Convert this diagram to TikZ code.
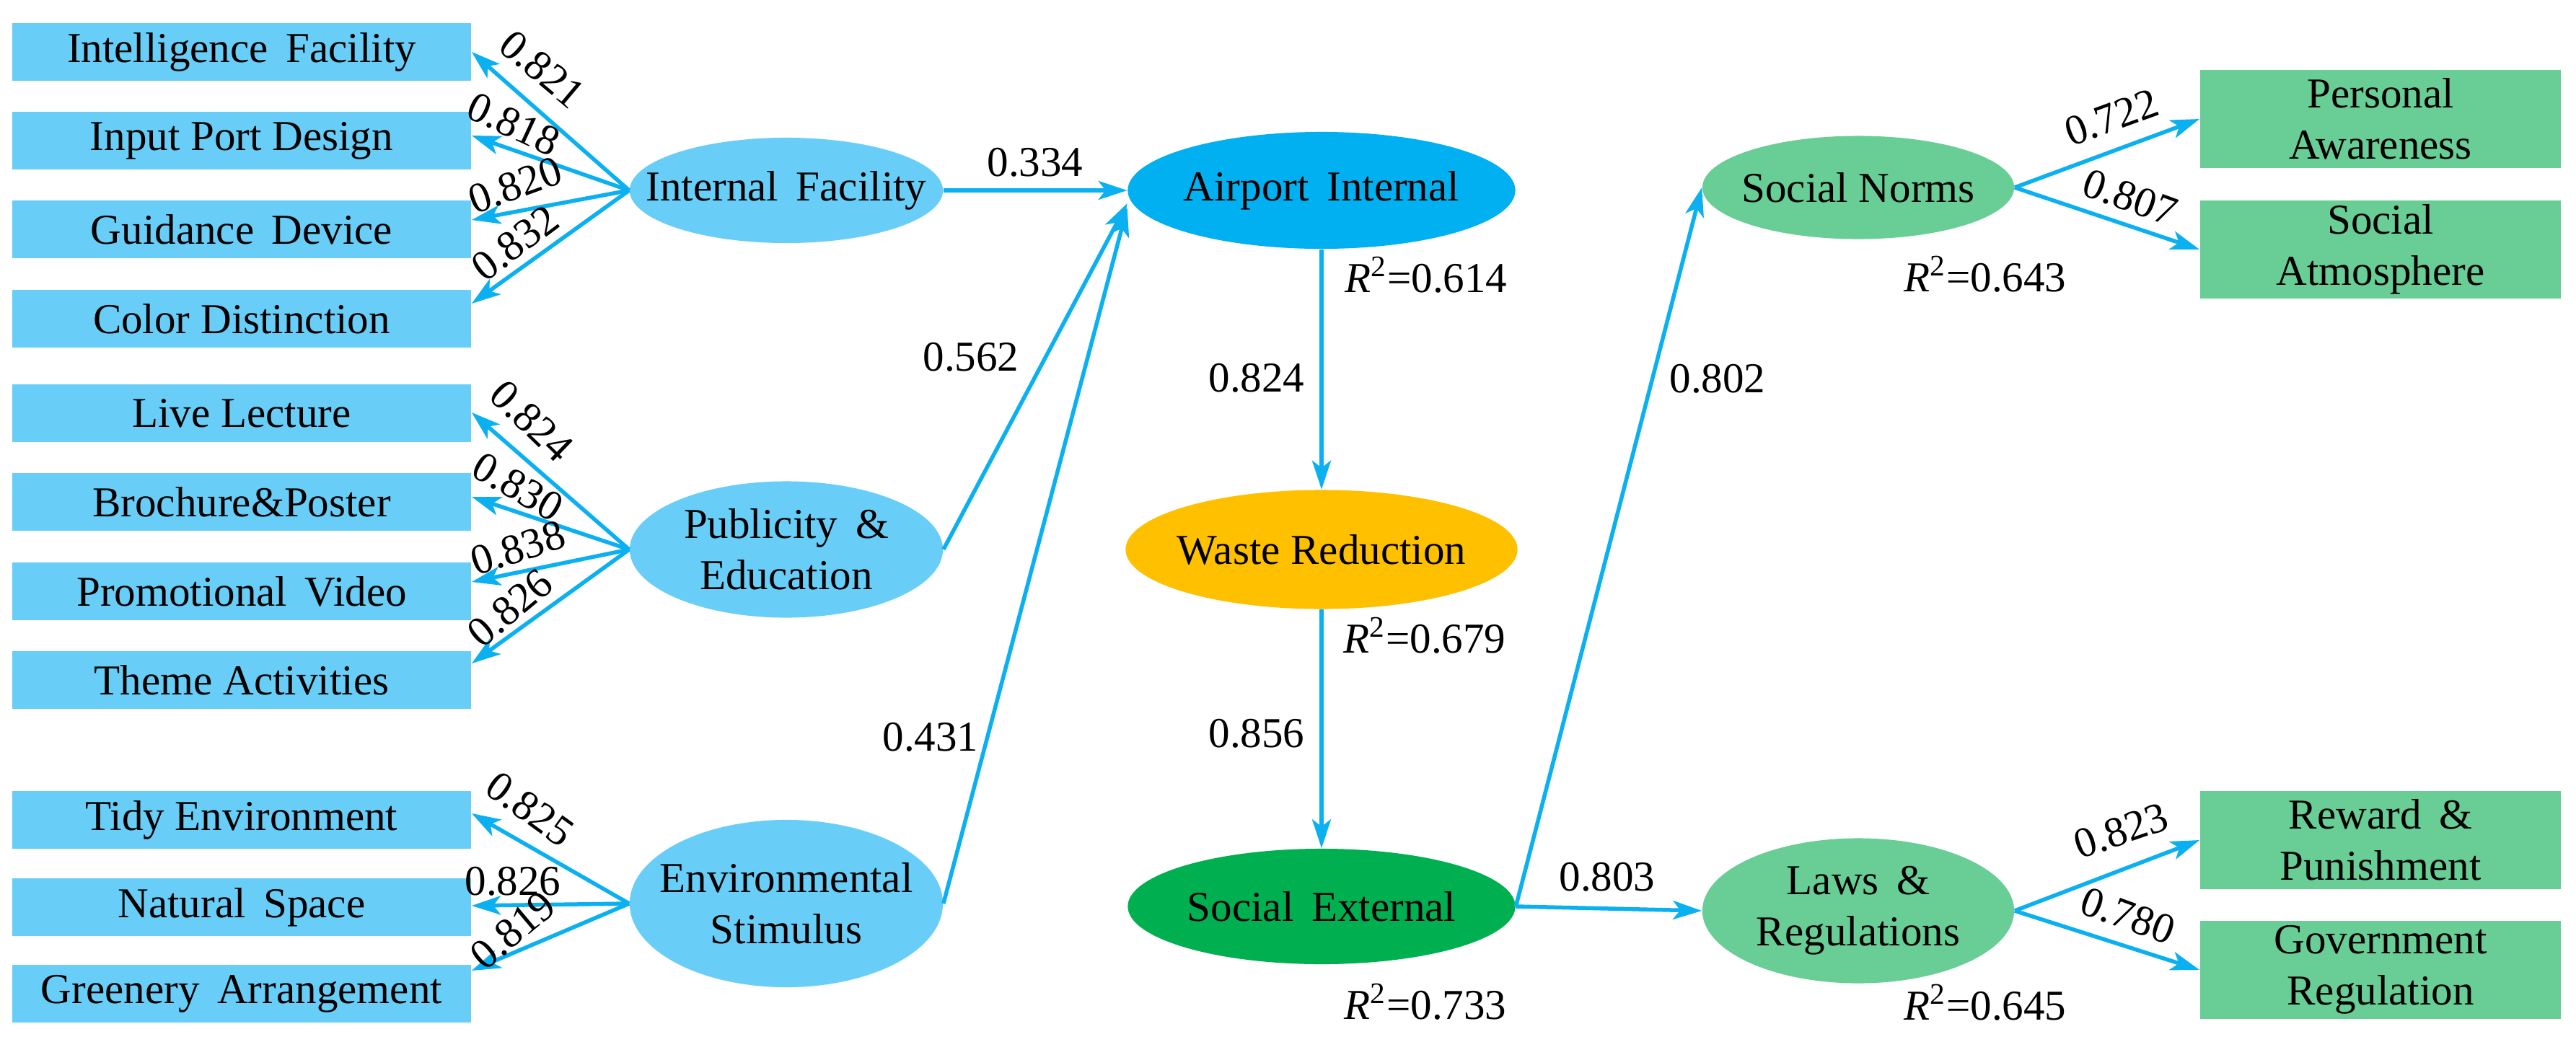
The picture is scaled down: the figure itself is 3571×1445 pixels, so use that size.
\documentclass[tikz,border=0pt]{standalone}
\usepackage{fontspec}
\setmainfont{Liberation Serif}
\usetikzlibrary{shapes.geometric,arrows.meta}
\definecolor{lblue}{RGB}{104,206,248}
\definecolor{aiblue}{HTML}{00B0F0}
\definecolor{wyellow}{HTML}{FFC000}
\definecolor{segreen}{HTML}{00B050}
\definecolor{rgreen}{RGB}{104,206,150}
\definecolor{arrc}{RGB}{10,176,240}
\newcommand\dfont{\fontsize{16.8}{20.2}\selectfont}
\begin{document}
\begin{tikzpicture}[x=0.01cm,y=-0.01cm,
  lbox/.style={rectangle, fill=lblue, minimum width=6.36cm, minimum height=0.8cm, inner sep=0pt, font=\dfont},
  gbox/.style={rectangle, fill=rgreen, minimum width=5.0cm, minimum height=1.35cm, inner sep=0pt, align=center, font=\dfont},
  ell/.style={ellipse, inner sep=0pt},
  txt/.style={font=\dfont, inner sep=0pt, align=center},
  lbl/.style={font=\dfont, inner sep=0pt},
  arr/.style={draw=arrc, line width=0.055cm, -{Stealth[length=0.4cm,width=0.26cm,inset=0.1cm]}}]
\useasboundingbox[fill=white] (0,0) rectangle (3571,1445);

% left indicator boxes
\node[lbox] (b1) at (335,72) {Intelligence\, Facility};
\node[lbox] (b2) at (335,195) {Input Port Design};
\node[lbox] (b3) at (335,318) {Guidance\, Device};
\node[lbox] (b4) at (335,442) {Color Distinction};
\node[lbox] (b5) at (335,573) {Live Lecture};
\node[lbox] (b6) at (335,696) {Brochure\&Poster};
\node[lbox] (b7) at (335,820) {Promotional\, Video};
\node[lbox] (b8) at (335,943) {Theme Activities};
\node[lbox] (b9) at (335,1137) {Tidy Environment};
\node[lbox] (b10) at (335,1258) {Natural\, Space};
\node[lbox] (b11) at (335,1378) {Greenery\, Arrangement};

% left latent ellipses
\node[ell, fill=lblue, minimum width=4.34cm, minimum height=1.46cm] (ifac) at (1090,264) {};
\node[txt] (ifact) at (ifac) {Internal\, Facility};
\node[ell, fill=lblue, minimum width=4.34cm, minimum height=1.89cm] (pub) at (1090,762) {};
\node[txt] (pubt) at (pub) {Publicity\, \&\\Education};
\node[ell, fill=lblue, minimum width=4.34cm, minimum height=2.32cm] (env) at (1090,1253) {};
\node[txt] (envt) at (env) {Environmental\\Stimulus};

% central ellipses
\node[ell, fill=aiblue, minimum width=5.37cm, minimum height=1.62cm] (ai) at (1832,264) {};
\node[txt] (ait) at (ai) {Airport\, Internal};
\node[ell, fill=wyellow, minimum width=5.43cm, minimum height=1.65cm] (wr) at (1832,762) {};
\node[txt] (wrt) at (wr) {Waste Reduction};
\node[ell, fill=segreen, minimum width=5.37cm, minimum height=1.60cm] (se) at (1832,1257) {};
\node[txt] (set) at (se) {Social\, External};

% right ellipses
\node[ell, fill=rgreen, minimum width=4.32cm, minimum height=1.43cm] (sn) at (2576,260) {};
\node[txt] (snt) at (sn) {Social Norms};
\node[ell, fill=rgreen, minimum width=4.32cm, minimum height=2.01cm] (lr) at (2576,1263) {};
\node[txt] (lrt) at (lr) {Laws\, \&\\Regulations};

% right boxes
\node[gbox] (pa) at (3300,165) {Personal\\Awareness};
\node[gbox] (sa) at (3300,346) {Social\\Atmosphere};
\node[gbox] (rp) at (3300,1165) {Reward\, \&\\Punishment};
\node[gbox] (gr) at (3300,1345) {Government\\Regulation};

% fan arrows, group 1
\draw[arr] (ifac.west) -- (b1.east);
\draw[arr] (ifac.west) -- ([yshift=0.07cm]b2.east);
\draw[arr] (ifac.west) -- ([yshift=0.13cm]b3.east);
\draw[arr] (ifac.west) -- ([yshift=0.21cm]b4.east);
\node[lbl, rotate=-40] (l1) at (752,96) {0.821};
\node[lbl, rotate=-25] (l2) at (712,172) {0.818};
\node[lbl, rotate=20] (l3) at (714,257) {0.820};
\node[lbl, rotate=37] (l4) at (714,337) {0.832};

% group 2
\draw[arr] (pub.west) -- ([yshift=0.01cm]b5.east);
\draw[arr] (pub.west) -- ([yshift=0.07cm]b6.east);
\draw[arr] (pub.west) -- ([yshift=0.13cm]b7.east);
\draw[arr] (pub.west) -- ([yshift=0.23cm]b8.east);
\node[lbl, rotate=-44] (l5) at (737,584) {0.824};
\node[lbl, rotate=-30] (l6) at (718,675) {0.830};
\node[lbl, rotate=18] (l7) at (718,760) {0.838};
\node[lbl, rotate=40] (l8) at (707,843) {0.826};

% group 3
\draw[arr] (env.west) -- ([yshift=0.09cm]b9.east);
\draw[arr] (env.west) -- ([yshift=0.02cm]b10.east);
\draw[arr] (env.west) -- ([yshift=0.32cm]b11.east);
\node[lbl, rotate=-36] (l9) at (735,1122) {0.825};
\node[lbl] (l10) at (711,1222) {0.826};
\node[lbl, rotate=40] (l11) at (711,1290) {0.819};

% structural paths
\draw[arr] (ifac.east) -- (ai.west);
\node[lbl] (p1) at (1435,225) {0.334};
\draw[arr] (pub.east) -- ([yshift=-0.18cm]ai.west);
\node[lbl] (p2) at (1346,495) {0.562};
\draw[arr] (env.east) -- ([yshift=-0.24cm]ai.west);
\node[lbl] (p3) at (1290,1022) {0.431};

\draw[arr] (ai.south) -- (wr.north);
\node[lbl] (p4) at (1742,524) {0.824};
\node[lbl] (r1) at (1977,381) {\textit{R}\textsuperscript{2}=0.614};
\draw[arr] (wr.south) -- (se.north);
\node[lbl] (p5) at (1742,1017) {0.856};
\node[lbl] (r2) at (1975,881) {\textit{R}\textsuperscript{2}=0.679};
\node[lbl] (r3) at (1976,1389) {\textit{R}\textsuperscript{2}=0.733};

\draw[arr] (se.east) -- (sn.west);
\node[lbl] (p6) at (2381,525) {0.802};
\draw[arr] (se.east) -- (lr.west);
\node[lbl] (p7) at (2228,1216) {0.803};

\draw[arr] (sn.east) -- (pa.west);
\draw[arr] (sn.east) -- (sa.west);
\node[lbl, rotate=20] (l12) at (2927,163) {0.722};
\node[lbl, rotate=-20] (l13) at (2953,274) {0.807};
\node[lbl] (r4) at (2752,380) {\textit{R}\textsuperscript{2}=0.643};

\draw[arr] (lr.east) -- (rp.west);
\draw[arr] (lr.east) -- (gr.west);
\node[lbl, rotate=19] (l14) at (2940,1152) {0.823};
\node[lbl, rotate=-20] (l15) at (2950,1270) {0.780};
\node[lbl] (r5) at (2752,1390) {\textit{R}\textsuperscript{2}=0.645};
\end{tikzpicture}
\end{document}
